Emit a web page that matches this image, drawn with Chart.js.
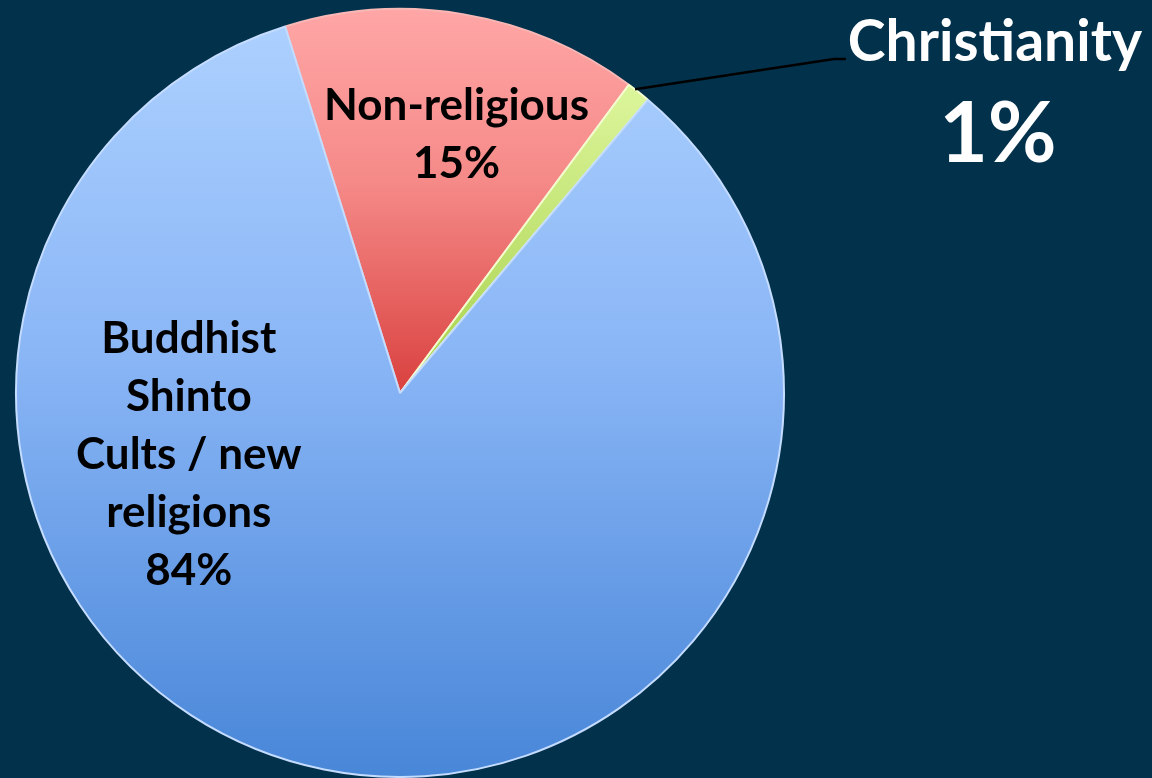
<!DOCTYPE html>
<html>
<head>
<meta charset="utf-8">
<script src="https://cdn.jsdelivr.net/npm/chart.js@4"></script>
<style>
  html, body { margin: 0; padding: 0; background: #02314c; }
  #wrap { width: 1152px; height: 778px; }
</style>
</head>
<body>
<div id="wrap"><canvas id="ReligionChart"></canvas></div>
<script>
const categories = ['Non-religious', 'Christianity', 'Buddhist / Shinto / Cults / new religions'];
const shares = [15, 1, 84];
const labelLines = [
  ['Non-religious', '15%'],
  ['Christianity', '1%'],
  ['Buddhist', 'Shinto', 'Cults / new', 'religions', '84%']
];
const startAngle = -17.4;

const FONT = 'Lato, "Open Sans", sans-serif';

// vertical gradients per slice, like the office-style bevelled fills
const sliceFill = (ctx) => {
  const chart = ctx.chart;
  const area = chart.chartArea;
  if (!area) return '#7fb0f0';
  const c = chart.ctx;
  const midY = (area.top + area.bottom) / 2;
  let g;
  if (ctx.dataIndex === 0) {
    g = c.createLinearGradient(0, area.top, 0, midY);
    g.addColorStop(0, '#ffa6a6');
    g.addColorStop(0.45, '#f58a88');
    g.addColorStop(1, '#d9413f');
  } else if (ctx.dataIndex === 1) {
    g = c.createLinearGradient(0, area.top, 0, midY);
    g.addColorStop(0, '#eaffb0');
    g.addColorStop(1, '#a6d04a');
  } else {
    g = c.createLinearGradient(0, area.top, 0, area.bottom);
    g.addColorStop(0, '#aed2ff');
    g.addColorStop(0.45, '#8ab6f6');
    g.addColorStop(1, '#4886d8');
  }
  return g;
};

const labelPlugin = {
  id: 'sliceLabels',
  afterDatasetsDraw(chart) {
    const meta = chart.getDatasetMeta(0);
    const c = chart.ctx;
    const arc0 = meta.data[0];
    const cx = arc0.x, cy = arc0.y, r = arc0.outerRadius;
    c.save();
    c.textAlign = 'center';
    c.textBaseline = 'middle';

    // Non-religious, inside its slice
    const a = meta.data[0];
    const mid = (a.startAngle + a.endAngle) / 2;
    const nx = cx + Math.cos(mid) * r * 0.68 + 13;
    const ny = cy + Math.sin(mid) * r * 0.68 - 1;
    c.fillStyle = '#000';
    c.font = 'bold 44px ' + FONT;
    c.fillText(labelLines[0][0], nx, ny - 29);
    c.fillText(labelLines[0][1], nx, ny + 29);

    // Buddhist block on the left of the big slice
    const bx = cx - r * 0.55;
    const by = cy + r * 0.16;
    const lh = 58;
    const lines = labelLines[2];
    lines.forEach((t, i) => {
      c.fillText(t, bx, by + (i - (lines.length - 1) / 2) * lh);
    });

    // Christianity callout outside the pie
    const g = meta.data[1];
    const gm = g.startAngle;
    const px = cx + Math.cos(gm + 0.02) * r;
    const py = cy + Math.sin(gm + 0.02) * r;
    const ex = cx + r * 1.13;
    const ey = cy - r * 0.87;
    c.strokeStyle = '#000';
    c.lineWidth = 2.5;
    c.beginPath();
    c.moveTo(px, py);
    c.lineTo(ex, ey);
    c.lineTo(ex + 12, ey);
    c.stroke();
    c.fillStyle = '#ffffff';
    c.font = 'bold 57px ' + FONT;
    c.fillText(labelLines[1][0], ex + 161, ey - 16);
    c.font = 'bold 84px ' + FONT;
    c.fillText(labelLines[1][1], ex + 164, ey + 76);
    c.restore();
  }
};

const config = {
  type: 'pie',
  data: {
    labels: categories,
    datasets: [{
      data: shares,
      backgroundColor: sliceFill,
      borderColor: ['#f7b8b6', '#f4ffd0', '#c4dcff'],
      borderWidth: 2
    }]
  },
  options: {
    responsive: true,
    maintainAspectRatio: false,
    animation: false,
    rotation: startAngle,
    layout: { padding: { left: 15, right: 367, top: 8, bottom: 0 } },
    plugins: {
      legend: { display: false },
      tooltip: { enabled: false }
    }
  },
  plugins: [labelPlugin]
};

const myChart = new Chart(document.getElementById('ReligionChart'), config);
</script>
</body>
</html>
